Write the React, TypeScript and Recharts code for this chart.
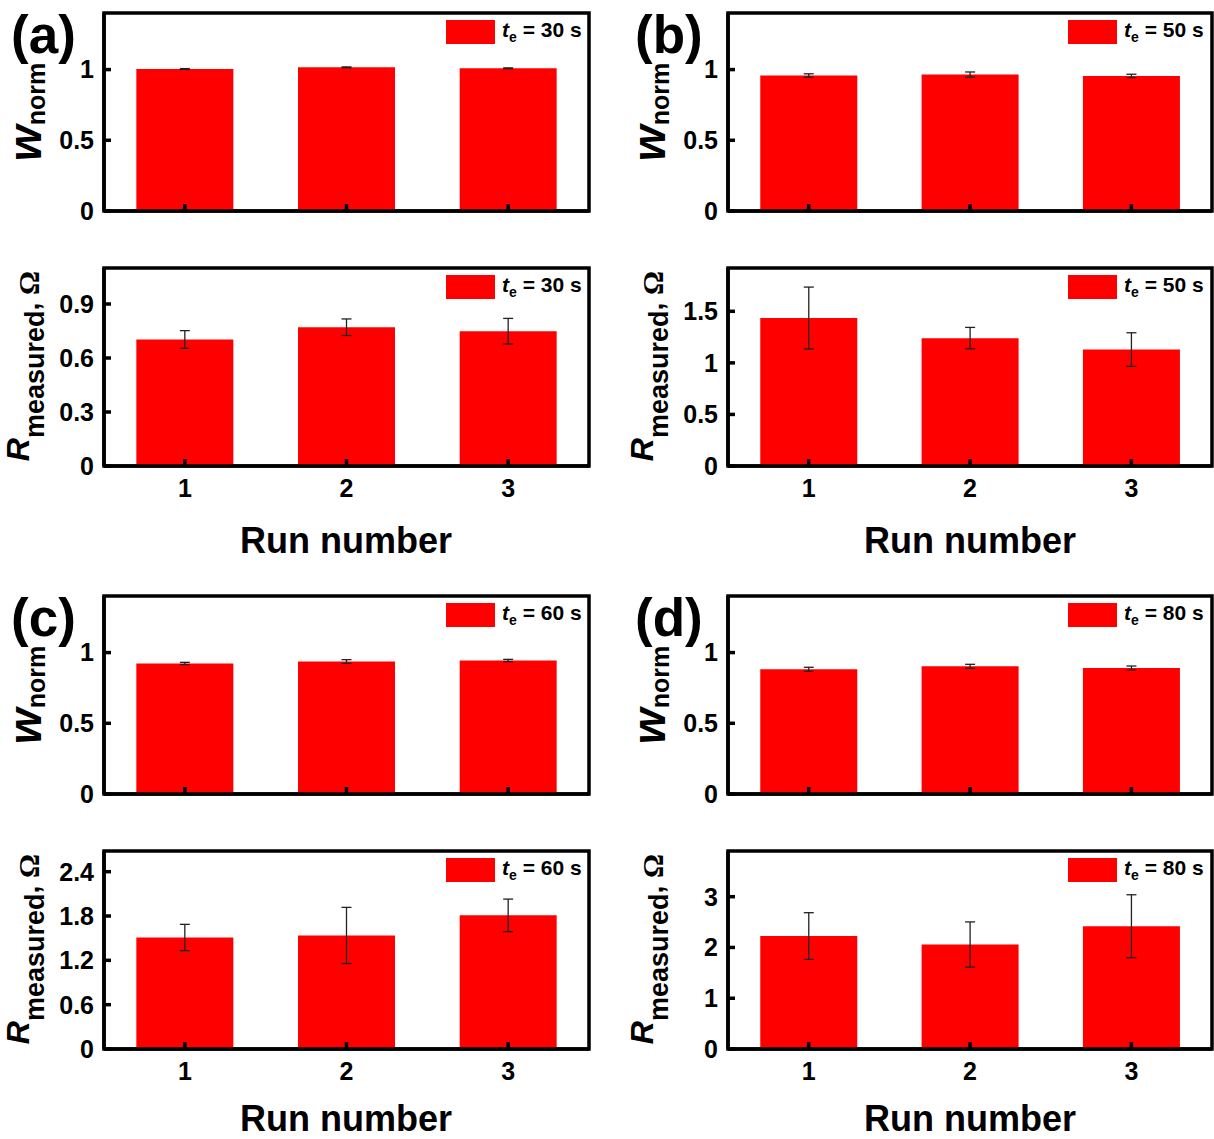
import React from "react";
import { Bar, BarChart, ErrorBar, Legend, ReferenceArea, XAxis, YAxis } from "recharts";

const FONT = "'Liberation Sans', Arial, sans-serif";

const runs = ["1", "2", "3"];

// w_norm panels
const wnorm30 = [1.004, 1.016, 1.009];
const wnorm30Err = [0.003, 0.003, 0.003];
const wnorm50 = [0.958, 0.965, 0.955];
const wnorm50Err = [0.012, 0.018, 0.012];
const wnorm60 = [0.923, 0.937, 0.944];
const wnorm60Err = [0.008, 0.013, 0.008];
const wnorm80 = [0.882, 0.903, 0.891];
const wnorm80Err = [0.014, 0.014, 0.014];

// R_measured panels (ohm)
const rmeas30 = [0.703, 0.771, 0.749];
const rmeas30Err = [0.049, 0.046, 0.071];
const rmeas50 = [1.435, 1.24, 1.129];
const rmeas50Err = [0.3, 0.104, 0.163];
const rmeas60 = [1.509, 1.537, 1.809];
const rmeas60Err = [0.178, 0.38, 0.22];
const rmeas80 = [2.225, 2.058, 2.418];
const rmeas80Err = [0.46, 0.445, 0.62];

const wTicks = [0, 0.5, 1];
const r30Ticks = [0, 0.3, 0.6, 0.9];
const r50Ticks = [0, 0.5, 1, 1.5];
const r60Ticks = [0, 0.6, 1.2, 1.8, 2.4];
const r80Ticks = [0, 1, 2, 3];

const PLOT_H = 198;
const TOP_PAD = 10;
const X_AX_H = 45;

function LegendBox({ te }: { te: number }) {
  return (
    <div
      style={{
        display: "flex",
        alignItems: "center",
        fontFamily: FONT,
        fontWeight: "bold",
        fontSize: 21,
        color: "#000",
        whiteSpace: "nowrap",
        lineHeight: 1,
      }}
    >
      <span style={{ display: "inline-block", width: 49, height: 24, background: "#ff0000", marginRight: 7 }} />
      <span>
        <i>t</i>
        <sub style={{ fontSize: 14 }}>e</sub> = {te} s
      </span>
    </div>
  );
}

type PanelProps = {
  left: number;
  top: number;
  width: number;
  right: number;
  values: number[];
  errs: number[];
  max: number;
  ticks: number[];
  te: number;
  legendLeft: number;
  showX: boolean;
};

function Panel({ left, top, width, right, values, errs, max, ticks, te, legendLeft, showX }: PanelProps) {
  const data = runs.map((run, i) => ({ run, value: values[i], err: errs[i] }));
  const frame = { stroke: "#000", strokeWidth: 3.5 };
  const tickFont = { fill: "#000", fontSize: 25, fontWeight: "bold", fontFamily: FONT };
  return (
    <div style={{ position: "absolute", left, top }}>
      <BarChart
        width={width}
        height={TOP_PAD + PLOT_H + X_AX_H}
        data={data}
        margin={{ top: TOP_PAD, right, bottom: 0, left: 0 }}
        barCategoryGap="20%"
      >
        <ReferenceArea y1={0} y2={max} fill="none" stroke="#000" strokeWidth={3.5} ifOverflow="visible" />
        <Bar dataKey="value" fill="#ff0000" isAnimationActive={false}>
          <ErrorBar dataKey="err" width={5} stroke="#222" strokeWidth={1.3} direction="y" />
        </Bar>
        <XAxis
          dataKey="run"
          height={X_AX_H}
          axisLine={frame}
          tickLine={frame}
          tickSize={-7}
          tickMargin={20}
          tick={tickFont}
          tickFormatter={(v: string) => (showX ? v : "")}
          interval={0}
        />
        <YAxis
          domain={[0, max]}
          ticks={ticks}
          allowDataOverflow
          width={104}
          axisLine={frame}
          tickLine={frame}
          tickSize={-7}
          tickMargin={17}
          tick={tickFont}
          tickFormatter={(v: number) => String(v)}
        />
        <Legend
          layout="horizontal"
          verticalAlign="middle"
          align="center"
          wrapperStyle={{ left: legendLeft, top: TOP_PAD + 6, width: "auto" }}
          content={() => <LegendBox te={te} />}
        />
      </BarChart>
    </div>
  );
}

const textStyle = { fontFamily: FONT, fontWeight: "bold" as const, fill: "#000" };

function WLabel({ x, y }: { x: number; y: number }) {
  return (
    <text transform={`translate(${x},${y}) rotate(-90)`} textAnchor="middle" style={textStyle}>
      <tspan fontSize={46} fontStyle="italic">w</tspan>
      <tspan fontSize={25} dy={4}>norm</tspan>
    </text>
  );
}

function RLabel({ x, y }: { x: number; y: number }) {
  return (
    <text transform={`translate(${x},${y}) rotate(-90)`} textAnchor="middle" style={textStyle}>
      <tspan fontSize={32} fontStyle="italic">R</tspan>
      <tspan fontSize={27} dy={15}>measured</tspan>
      <tspan fontSize={28} dy={-5}>, </tspan>
      <tspan fontSize={30} fontFamily="'Liberation Serif', 'Times New Roman', serif">Ω</tspan>
    </text>
  );
}

export default function App() {
  const colL = 0;
  const colR = 624;
  const row1 = 13 - TOP_PAD;
  const row2 = 268 - TOP_PAD;
  const row3 = 596 - TOP_PAD;
  const row4 = 851 - TOP_PAD;
  return (
    <div
      style={{
        position: "absolute",
        left: 0,
        top: 0,
        width: 1214,
        height: 1139,
        overflow: "hidden",
        background: "#fff",
      }}
    >
      <Panel left={colL} top={row1} width={600} right={11} values={wnorm30} errs={wnorm30Err} max={1.4} ticks={wTicks} te={30} legendLeft={446} showX={false} />
      <Panel left={colL} top={row2} width={600} right={11} values={rmeas30} errs={rmeas30Err} max={1.1} ticks={r30Ticks} te={30} legendLeft={446} showX />
      <Panel left={colR} top={row1} width={590} right={2} values={wnorm50} errs={wnorm50Err} max={1.4} ticks={wTicks} te={50} legendLeft={444} showX={false} />
      <Panel left={colR} top={row2} width={590} right={2} values={rmeas50} errs={rmeas50Err} max={1.92} ticks={r50Ticks} te={50} legendLeft={444} showX />
      <Panel left={colL} top={row3} width={600} right={11} values={wnorm60} errs={wnorm60Err} max={1.4} ticks={wTicks} te={60} legendLeft={446} showX={false} />
      <Panel left={colL} top={row4} width={600} right={11} values={rmeas60} errs={rmeas60Err} max={2.68} ticks={r60Ticks} te={60} legendLeft={446} showX />
      <Panel left={colR} top={row3} width={590} right={2} values={wnorm80} errs={wnorm80Err} max={1.4} ticks={wTicks} te={80} legendLeft={444} showX={false} />
      <Panel left={colR} top={row4} width={590} right={2} values={rmeas80} errs={rmeas80Err} max={3.9} ticks={r80Ticks} te={80} legendLeft={444} showX />

      <svg width={1214} height={1139} style={{ position: "absolute", left: 0, top: 0, pointerEvents: "none" }}>
        <text x={11} y={53} fontSize={53} style={textStyle}>(a)</text>
        <text x={635} y={53} fontSize={53} style={textStyle}>(b)</text>
        <text x={11} y={636} fontSize={53} style={textStyle}>(c)</text>
        <text x={635} y={636} fontSize={53} style={textStyle}>(d)</text>

        <WLabel x={41} y={112} />
        <WLabel x={665} y={112} />
        <WLabel x={41} y={695} />
        <WLabel x={665} y={695} />
        <RLabel x={29} y={366} />
        <RLabel x={653} y={366} />
        <RLabel x={29} y={949} />
        <RLabel x={653} y={949} />

        <text x={346} y={553} fontSize={36} textAnchor="middle" style={textStyle}>Run number</text>
        <text x={970} y={553} fontSize={36} textAnchor="middle" style={textStyle}>Run number</text>
        <text x={346} y={1131} fontSize={36} textAnchor="middle" style={textStyle}>Run number</text>
        <text x={970} y={1131} fontSize={36} textAnchor="middle" style={textStyle}>Run number</text>
      </svg>
    </div>
  );
}
